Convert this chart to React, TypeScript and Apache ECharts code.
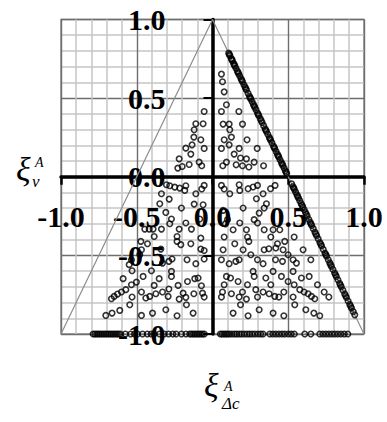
import { useEffect, useRef } from 'react';
import * as echarts from 'echarts';

// Corners of the allowed region: (-1,-1) -> (0,1) -> (1,-1)
const outlineVertices: [number, number][] = [[-1, -1], [0, 1], [1, -1]];

// Points lying on the right-hand edge of the triangle
const edgePoints: [number, number][] = [
  [0.107, 0.786], [0.111, 0.778], [0.115, 0.77], [0.124, 0.752], [0.1275, 0.745],
  [0.131, 0.738], [0.139, 0.722], [0.1435, 0.713], [0.1475, 0.705],
  [0.155, 0.69], [0.164, 0.672], [0.1685, 0.663], [0.1725, 0.655],
  [0.18, 0.64], [0.189, 0.622], [0.1935, 0.613], [0.198, 0.604],
  [0.2075, 0.585], [0.215, 0.57], [0.2195, 0.561], [0.224, 0.552],
  [0.235, 0.53], [0.244, 0.512], [0.2485, 0.503], [0.2525, 0.495],
  [0.261, 0.478], [0.27, 0.46], [0.275, 0.45], [0.2795, 0.441],
  [0.2875, 0.425], [0.2975, 0.405], [0.302, 0.396], [0.306, 0.388],
  [0.315, 0.37], [0.3215, 0.357], [0.3275, 0.345], [0.3375, 0.325],
  [0.3475, 0.305], [0.352, 0.296], [0.356, 0.288], [0.365, 0.27],
  [0.375, 0.25], [0.3795, 0.241], [0.384, 0.232], [0.3925, 0.215],
  [0.4025, 0.195], [0.407, 0.186], [0.411, 0.178], [0.42, 0.16],
  [0.429, 0.142], [0.4335, 0.133], [0.4375, 0.125], [0.446, 0.108],
  [0.455, 0.09], [0.4595, 0.081], [0.464, 0.072], [0.4725, 0.055],
  [0.481, 0.038], [0.4855, 0.029], [0.49, 0.02],
  [0.5225, -0.045], [0.531, -0.062], [0.5355, -0.071], [0.54, -0.08],
  [0.549, -0.098], [0.5575, -0.115], [0.5625, -0.125], [0.5675, -0.135],
  [0.576, -0.152], [0.585, -0.17], [0.5905, -0.181], [0.596, -0.192],
  [0.605, -0.21], [0.614, -0.228], [0.6195, -0.239], [0.625, -0.25],
  [0.636, -0.272], [0.645, -0.29], [0.65, -0.3], [0.655, -0.31],
  [0.665, -0.33], [0.676, -0.352], [0.682, -0.364], [0.6875, -0.375],
  [0.6975, -0.395], [0.709, -0.418], [0.7145, -0.429], [0.72, -0.44],
  [0.731, -0.462], [0.7425, -0.485], [0.7475, -0.495], [0.7525, -0.505],
  [0.764, -0.528], [0.774, -0.548], [0.7795, -0.559], [0.785, -0.57],
  [0.795, -0.59], [0.806, -0.612], [0.812, -0.624], [0.8175, -0.635],
  [0.8275, -0.655], [0.839, -0.678], [0.8445, -0.689], [0.85, -0.7],
  [0.861, -0.722], [0.8725, -0.745], [0.8785, -0.757], [0.884, -0.768],
  [0.895, -0.79], [0.906, -0.812], [0.912, -0.824], [0.9175, -0.835],
  [0.929, -0.858], [0.939, -0.878],
];

// Points lying on the bottom edge (ordinate -1)
const baseRowPoints: [number, number][] = [
  [-0.788, -1], [-0.776, -1], [-0.764, -1], [-0.752, -1], [-0.74, -1], [-0.728, -1], [-0.716, -1],
  [-0.704, -1], [-0.692, -1], [-0.68, -1], [-0.668, -1], [-0.656, -1], [-0.644, -1], [-0.632, -1],
  [-0.62, -1], [-0.608, -1], [-0.575, -1], [-0.54, -1], [-0.515, -1], [-0.495, -1], [-0.462, -1],
  [-0.43, -1], [-0.405, -1], [-0.385, -1], [-0.35, -1], [-0.318, -1], [-0.29, -1], [-0.262, -1],
  [-0.24, -1], [-0.205, -1], [-0.175, -1], [-0.15, -1], [-0.138, -1], [-0.126, -1], [-0.114, -1],
  [-0.102, -1], [-0.09, -1], [-0.078, -1], [-0.066, -1], [-0.054, -1],
  [0.052, -1], [0.064, -1], [0.076, -1], [0.088, -1], [0.1, -1], [0.112, -1], [0.128, -1], [0.145, -1],
  [0.16, -1], [0.176, -1], [0.192, -1], [0.21, -1], [0.228, -1], [0.245, -1], [0.262, -1], [0.28, -1],
  [0.3, -1], [0.318, -1], [0.334, -1], [0.378, -1], [0.398, -1], [0.418, -1], [0.438, -1], [0.458, -1],
  [0.477, -1], [0.5, -1], [0.52, -1], [0.54, -1], [0.609, -1], [0.649, -1], [0.708, -1], [0.728, -1],
  [0.748, -1], [0.768, -1], [0.788, -1], [0.807, -1], [0.827, -1], [0.848, -1], [0.87, -1], [0.893, -1],
];

// Interior points above the abscissa
const upperPoints: [number, number][] = [
  [-0.055, 0.415], [-0.062, 0.337], [-0.11, 0.337], [-0.121, 0.299], [-0.123, 0.252], [-0.077, 0.235],
  [-0.135, 0.203], [-0.176, 0.182], [-0.055, 0.18], [-0.143, 0.144], [-0.22, 0.114], [-0.088, 0.093],
  [-0.154, 0.078], [-0.2, 0.065], [-0.071, 0.07], [-0.229, 0.055],
  [0.059, 0.653], [0.066, 0.604], [0.077, 0.54], [0.092, 0.458], [0.059, 0.415], [0.174, 0.415],
  [0.07, 0.335], [0.11, 0.335], [0.198, 0.335], [0.114, 0.299], [0.125, 0.252], [0.077, 0.235],
  [0.228, 0.235], [0.11, 0.203], [0.059, 0.18], [0.176, 0.18], [0.295, 0.18], [0.143, 0.144],
  [0.185, 0.119], [0.224, 0.114], [0.275, 0.093], [0.092, 0.093], [0.068, 0.07], [0.156, 0.076],
  [0.198, 0.07], [0.24, 0.062], [0.337, 0.07],
];

// Interior points between 0 and -0.5
const middlePoints: [number, number][] = [
  [-0.304, -0.051], [-0.282, -0.057], [-0.249, -0.066], [-0.216, -0.072], [-0.176, -0.057], [-0.183, -0.087],
  [-0.055, -0.055], [-0.071, -0.078], [-0.11, -0.108], [-0.337, -0.108], [-0.286, -0.142], [-0.348, -0.172],
  [-0.205, -0.199], [-0.121, -0.174], [-0.062, -0.178], [-0.308, -0.227], [-0.271, -0.269], [-0.282, -0.299],
  [-0.176, -0.294], [-0.084, -0.269], [-0.447, -0.333], [-0.418, -0.333], [-0.392, -0.333], [-0.337, -0.333],
  [-0.22, -0.333], [-0.139, -0.333], [-0.385, -0.38], [-0.473, -0.411], [-0.429, -0.426], [-0.234, -0.38],
  [-0.234, -0.411], [-0.209, -0.432], [-0.143, -0.426], [-0.077, -0.39], [-0.469, -0.464], [-0.341, -0.46],
  [-0.077, -0.46], [-0.055, -0.469], [-0.48, -0.495],
  [0.059, -0.055], [0.077, -0.078], [0.114, -0.108], [0.176, -0.051], [0.18, -0.087], [0.235, -0.076],
  [0.268, -0.065], [0.297, -0.055], [0.334, -0.108], [0.383, -0.076], [0.413, -0.055], [0.29, -0.14],
  [0.07, -0.214], [0.202, -0.199], [0.356, -0.172], [0.341, -0.199], [0.308, -0.231], [0.275, -0.273],
  [0.297, -0.294], [0.18, -0.294], [0.099, -0.273], [0.085, -0.3], [0.136, -0.337], [0.224, -0.337],
  [0.341, -0.337], [0.4, -0.337], [0.444, -0.337], [0.077, -0.383], [0.231, -0.383], [0.24, -0.411],
  [0.385, -0.383], [0.477, -0.411], [0.429, -0.426], [0.539, -0.383], [0.147, -0.426], [0.07, -0.464],
  [0.202, -0.464], [0.253, -0.496], [0.341, -0.464], [0.372, -0.458], [0.418, -0.453], [0.466, -0.464],
  [0.598, -0.464], [0.499, -0.496],
];

// Interior points below -0.5
const lowerPoints: [number, number][] = [
  [-0.535, -0.528], [-0.55, -0.559], [-0.531, -0.598], [-0.59, -0.648], [-0.535, -0.687], [-0.572, -0.718],
  [-0.601, -0.733], [-0.627, -0.746], [-0.649, -0.761], [-0.667, -0.776], [-0.531, -0.765], [-0.546, -0.814],
  [-0.612, -0.85], [-0.663, -0.867], [-0.704, -0.882], [-0.502, -0.67], [-0.458, -0.634], [-0.403, -0.598],
  [-0.352, -0.648], [-0.271, -0.602], [-0.271, -0.634], [-0.385, -0.691], [-0.469, -0.733], [-0.44, -0.771],
  [-0.414, -0.761], [-0.374, -0.744], [-0.33, -0.733], [-0.288, -0.714], [-0.293, -0.761], [-0.227, -0.691],
  [-0.194, -0.74], [-0.22, -0.778], [-0.165, -0.666], [-0.117, -0.648], [-0.095, -0.644], [-0.176, -0.767],
  [-0.123, -0.744], [-0.073, -0.693], [-0.066, -0.74], [-0.055, -0.765], [-0.172, -0.814], [-0.128, -0.867],
  [-0.308, -0.846], [-0.396, -0.867], [-0.469, -0.882], [-0.234, -0.884], [-0.33, -0.549], [-0.288, -0.538],
  [-0.267, -0.523], [-0.168, -0.528], [-0.11, -0.553], [-0.055, -0.523],
  [0.059, -0.528], [0.11, -0.553], [0.154, -0.538], [0.176, -0.528], [0.297, -0.528], [0.334, -0.553],
  [0.416, -0.528], [0.462, -0.538], [0.532, -0.528], [0.554, -0.549], [0.649, -0.528], [0.268, -0.602],
  [0.275, -0.634], [0.092, -0.634], [0.119, -0.644], [0.169, -0.666], [0.077, -0.687], [0.352, -0.644],
  [0.4, -0.602], [0.455, -0.634], [0.532, -0.602], [0.499, -0.666], [0.587, -0.644], [0.638, -0.634],
  [0.231, -0.687], [0.385, -0.687], [0.539, -0.687], [0.693, -0.687], [0.066, -0.733], [0.059, -0.765],
  [0.125, -0.744], [0.176, -0.765], [0.198, -0.733], [0.224, -0.778], [0.286, -0.718], [0.297, -0.765],
  [0.334, -0.733], [0.374, -0.744], [0.411, -0.761], [0.438, -0.765], [0.471, -0.733], [0.532, -0.765],
  [0.576, -0.718], [0.605, -0.733], [0.631, -0.744], [0.653, -0.761], [0.675, -0.776], [0.737, -0.733],
  [0.768, -0.765], [0.185, -0.814], [0.136, -0.867], [0.235, -0.884], [0.308, -0.846], [0.4, -0.867],
  [0.471, -0.884], [0.543, -0.814], [0.616, -0.846], [0.669, -0.867], [0.708, -0.884],
];

const axisMin = -1;
const axisMax = 1;
const majorStep = 0.5;

// Plot rectangle in pixels
const PLOT_LEFT = 61;
const PLOT_TOP = 19.5;
const PLOT_W = 303;
const PLOT_H = 314.5;

const SERIF = "'Times New Roman', 'Liberation Serif', serif";

const fmt = (v: number) => (Math.abs(v) < 1e-9 ? 0 : v).toFixed(1);

export default function App() {
  const ref = useRef<HTMLDivElement>(null);

  useEffect(() => {
    if (!ref.current) return;
    const chart = echarts.init(ref.current, undefined, { renderer: 'svg' });

    const gridAxisBase = {
      type: 'value',
      min: axisMin,
      max: axisMax,
      interval: majorStep,
      axisLine: { show: false, onZero: false },
      axisTick: { show: false },
      axisLabel: { show: false },
      splitLine: { show: true, lineStyle: { color: '#6e6e6e', width: 1.4 } },
      minorTick: { show: false, splitNumber: 5 },
      minorSplitLine: { show: true, lineStyle: { color: '#c6c6c6', width: 1.5 } },
      z: 0,
    };

    const labelStyle = {
      fontFamily: SERIF,
      fontWeight: 'bold',
      fontSize: 30,
      color: '#000',
      formatter: fmt,
    };

    // the crossing axes sit at the zero of the other axis: shift them in from the plot edges
    const xZeroShift = -(PLOT_H * (0 - axisMin)) / (axisMax - axisMin);
    const yZeroShift = -(PLOT_W * (0 - axisMin)) / (axisMax - axisMin);

    const allPoints = [...edgePoints, ...baseRowPoints, ...upperPoints, ...middlePoints, ...lowerPoints];

    const titleText = (x: number, y: number, text: string, size: number) => ({
      type: 'text',
      x,
      y,
      style: {
        text,
        font: `italic ${size}px ${SERIF}`,
        fill: '#000',
        textVerticalAlign: 'middle',
        verticalAlign: 'middle',
      },
    });

    const option: any = {
      animation: false,
      backgroundColor: '#fff',
      grid: {
        left: PLOT_LEFT,
        top: PLOT_TOP,
        width: PLOT_W,
        height: PLOT_H,
        show: true,
        borderColor: '#8a8a8a',
        borderWidth: 1.5,
        backgroundColor: '#fff',
      },
      xAxis: [
        { ...gridAxisBase, position: 'top' },
        {
          type: 'value',
          min: axisMin,
          max: axisMax,
          interval: majorStep,
          position: 'bottom',
          offset: xZeroShift,
          z: 1,
          axisLine: { show: true, onZero: false, lineStyle: { color: '#000', width: 3.5 } },
          axisTick: { show: true, length: 8, lineStyle: { color: '#000', width: 2.5 } },
          axisLabel: { ...labelStyle, margin: 25 },
          splitLine: { show: false },
        },
      ],
      yAxis: [
        { ...gridAxisBase, position: 'right' },
        {
          type: 'value',
          min: axisMin,
          max: axisMax,
          interval: majorStep,
          position: 'left',
          offset: yZeroShift,
          z: 1,
          axisLine: { show: true, onZero: false, lineStyle: { color: '#000', width: 3.5 } },
          axisTick: { show: true, length: 9, lineStyle: { color: '#000', width: 2 } },
          axisLabel: { ...labelStyle, margin: 47 },
          splitLine: { show: false },
        },
      ],
      series: [
        {
          type: 'line',
          xAxisIndex: 0,
          yAxisIndex: 0,
          data: outlineVertices,
          symbol: 'none',
          lineStyle: { color: '#8c8c8c', width: 1.2 },
          z: 2,
          silent: true,
        },
        {
          type: 'scatter',
          xAxisIndex: 0,
          yAxisIndex: 0,
          data: allPoints,
          symbol: 'circle',
          symbolSize: 5.5,
          itemStyle: { color: 'rgba(0,0,0,0)', borderColor: '#000', borderWidth: 1.6 },
          z: 3,
          silent: true,
        },
      ],
      graphic: [
        // vertical axis title
        titleText(16, 169, 'ξ', 34),
        titleText(35, 162.5, 'A', 14),
        titleText(32, 181.5, 'ν', 17),
        // horizontal axis title
        titleText(204, 385, 'ξ', 34),
        titleText(224, 386.5, 'A', 14),
        titleText(222, 403.5, 'Δc', 17),
      ],
    };

    chart.setOption(option);
    return () => chart.dispose();
  }, []);

  return (
    <div
      ref={ref}
      style={{ position: 'fixed', left: 0, top: 0, width: 387, height: 422, background: '#fff' }}
    />
  );
}
